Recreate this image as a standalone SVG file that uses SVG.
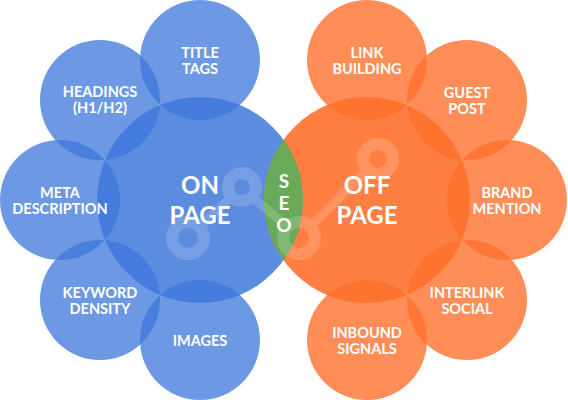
<svg xmlns="http://www.w3.org/2000/svg" width="568" height="400" viewBox="0 0 568 400">
<style>
.bs{fill:#3f78db;fill-opacity:0.76}
.bb{fill:#3f78db;fill-opacity:0.85}
.os{fill:#ff702d;fill-opacity:0.8}
.ob{fill:#ff702d;fill-opacity:0.9}
.lbl{font-family:"Lato","Open Sans",sans-serif;font-weight:700;font-size:14.5px;fill:#ffffff;text-anchor:middle}
.big{font-family:"Lato","Open Sans",sans-serif;font-weight:700;font-size:24px;fill:#ffffff;text-anchor:middle}
.seo{font-family:"Lato","Open Sans",sans-serif;font-weight:700;font-size:19px;fill:#ffffff;text-anchor:middle}
.ic circle{fill:none;stroke:#ffffff;stroke-width:12}
.ic line{stroke:#ffffff;stroke-width:9}
</style>
<g id="on-page"><circle class="bb" cx="200" cy="200" r="103"/></g>
<g id="off-page"><circle class="ob" cx="367" cy="200" r="103"/></g>
<g id="title-tags"><circle class="bs" cx="200" cy="60" r="60"/><text class="lbl" x="200" y="58">TITLE</text><text class="lbl" x="200" y="74">TAGS</text></g>
<g id="headings"><circle class="bs" cx="100" cy="100" r="60"/><text class="lbl" x="100" y="97">HEADINGS</text><text class="lbl" x="100" y="113">(H1/H2)</text></g>
<g id="meta"><circle class="bs" cx="60" cy="200" r="60"/><text class="lbl" x="60" y="198">META</text><text class="lbl" x="60" y="214">DESCRIPTION</text></g>
<g id="keyword"><circle class="bs" cx="100" cy="300" r="60"/><text class="lbl" x="100" y="298">KEYWORD</text><text class="lbl" x="100" y="314">DENSITY</text></g>
<g id="images"><circle class="bs" cx="200" cy="340" r="60"/><text class="lbl" x="200" y="346">IMAGES</text></g>
<g id="link-building"><circle class="os" cx="367" cy="60" r="60"/><text class="lbl" x="367" y="58">LINK</text><text class="lbl" x="367" y="74">BUILDING</text></g>
<g id="guest-post"><circle class="os" cx="467" cy="100" r="60"/><text class="lbl" x="467" y="98">GUEST</text><text class="lbl" x="467" y="114">POST</text></g>
<g id="brand"><circle class="os" cx="507" cy="200" r="60"/><text class="lbl" x="507" y="198">BRAND</text><text class="lbl" x="507" y="214">MENTION</text></g>
<g id="interlink"><circle class="os" cx="467" cy="300" r="60"/><text class="lbl" x="467" y="298">INTERLINK</text><text class="lbl" x="467" y="314">SOCIAL</text></g>
<g id="inbound"><circle class="os" cx="367" cy="340" r="60"/><text class="lbl" x="367" y="338">INBOUND</text><text class="lbl" x="367" y="354">SIGNALS</text></g>
<g id="seo"><path d="M283.5 139.7 A103 103 0 0 1 283.5 260.3 A103 103 0 0 1 283.5 139.7 Z" fill="#68aa5a"/></g>
<g id="icon" class="ic" opacity="0.16">
<line x1="200" y1="226" x2="230" y2="198"/>
<line x1="255" y1="199" x2="286" y2="226"/>
<line x1="311" y1="226" x2="366" y2="171"/>
<circle cx="188" cy="238" r="16"/>
<circle cx="242" cy="187" r="14"/>
<circle cx="299" cy="238" r="16"/>
<circle cx="378" cy="159" r="15"/>
</g>
<g id="labels">
<text class="big" x="200" y="194">ON</text><text class="big" x="200" y="224">PAGE</text>
<text class="big" x="367" y="194">OFF</text><text class="big" x="367" y="224">PAGE</text>
<text class="seo" x="284" y="188">S</text><text class="seo" x="284" y="210">E</text><text class="seo" x="284" y="232">O</text>
</g>
</svg>
